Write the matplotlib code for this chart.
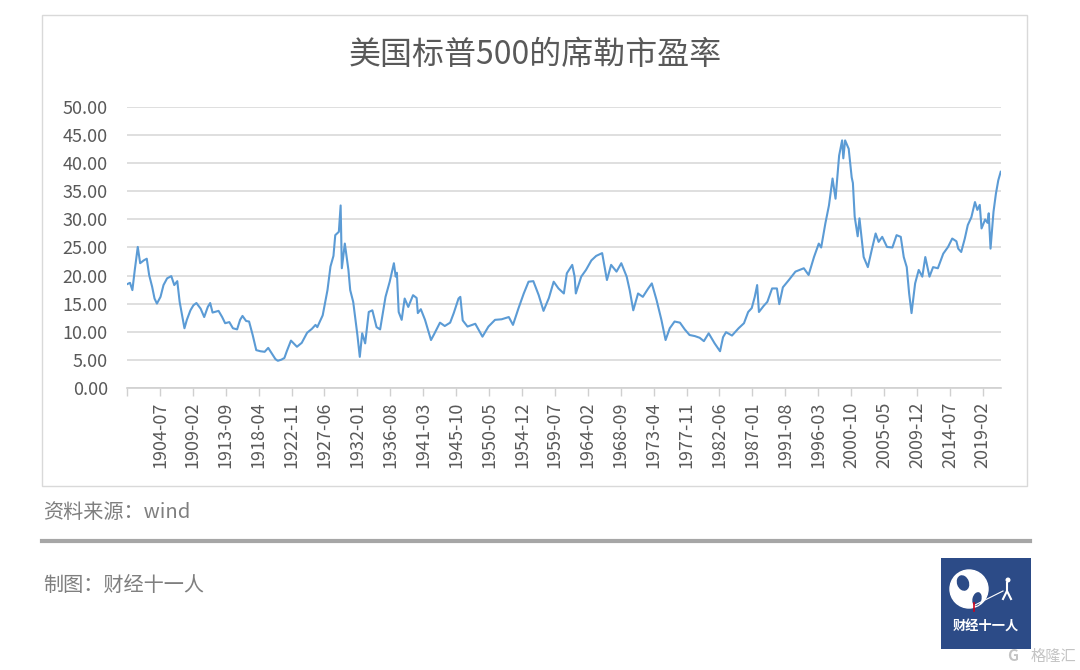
import numpy as np
import matplotlib
matplotlib.use("Agg")
import matplotlib.pyplot as plt
from matplotlib.patches import Rectangle, Circle, Ellipse
from matplotlib.lines import Line2D

plt.rcParams['font.family'] = ['Noto Sans CJK SC', 'DejaVu Sans']

# Shiller CAPE readings (month, value)
months = [
    "1900-01", "1900-05", "1900-09", "1901-01", "1901-06", "1901-10", "1902-04", "1902-09",
    "1903-01", "1903-06", "1903-10", "1904-02", "1904-08", "1905-01", "1905-07", "1906-02",
    "1906-07", "1906-12", "1907-04", "1907-08", "1907-12", "1908-04", "1908-10", "1909-03",
    "1909-08", "1910-03", "1910-09", "1911-03", "1911-07", "1911-11", "1912-09", "1913-03",
    "1913-08", "1914-03", "1914-09", "1915-04", "1915-09", "1916-01", "1916-07", "1916-12",
    "1917-06", "1917-12", "1918-07", "1919-02", "1919-08", "1920-02", "1920-08", "1920-12",
    "1921-06", "1921-11", "1922-03", "1922-10", "1923-08", "1924-04", "1925-01", "1925-09",
    "1926-03", "1926-06", "1927-03", "1927-11", "1928-04", "1928-09", "1928-12", "1929-06",
    "1929-09", "1929-11", "1930-04", "1930-10", "1931-01", "1931-06", "1932-01", "1932-05",
    "1932-09", "1933-02", "1933-08", "1934-02", "1934-09", "1935-03", "1935-12", "1936-07",
    "1937-02", "1937-05", "1937-07", "1937-10", "1938-03", "1938-08", "1939-02", "1939-10",
    "1940-04", "1940-06", "1940-11", "1941-06", "1942-04", "1942-09", "1943-07", "1944-03",
    "1944-12", "1945-06", "1946-02", "1946-05", "1946-09", "1947-05", "1948-06", "1949-06",
    "1950-04", "1951-03", "1952-02", "1953-02", "1953-09", "1954-06", "1955-03", "1955-11",
    "1956-07", "1957-04", "1957-12", "1958-09", "1959-05", "1960-01", "1960-10", "1961-03",
    "1961-12", "1962-04", "1962-06", "1963-03", "1963-11", "1964-08", "1965-04", "1966-02",
    "1966-10", "1967-05", "1968-02", "1968-10", "1969-07", "1969-12", "1970-06", "1971-02",
    "1971-10", "1972-07", "1973-01", "1973-09", "1974-05", "1974-12", "1975-07", "1976-03",
    "1976-12", "1977-08", "1978-04", "1979-01", "1979-09", "1980-04", "1980-12", "1981-10",
    "1982-07", "1982-12", "1983-05", "1984-03", "1985-02", "1985-11", "1986-06", "1986-12",
    "1987-05", "1987-09", "1987-12", "1988-08", "1989-02", "1989-10", "1990-06", "1990-10",
    "1991-04", "1992-02", "1993-01", "1994-03", "1994-11", "1995-08", "1996-04", "1996-08",
    "1997-03", "1997-09", "1998-03", "1998-08", "1999-02", "1999-07", "1999-09", "1999-12",
    "2000-06", "2000-11", "2001-01", "2001-04", "2001-09", "2001-12", "2002-07", "2003-02",
    "2003-09", "2004-03", "2004-08", "2005-02", "2005-10", "2006-07", "2007-02", "2007-09",
    "2008-02", "2008-07", "2008-11", "2009-03", "2009-09", "2010-03", "2010-09", "2011-02",
    "2011-09", "2012-03", "2012-11", "2013-08", "2014-04", "2014-11", "2015-06", "2015-09",
    "2016-02", "2016-08", "2017-01", "2017-07", "2018-01", "2018-05", "2018-09", "2018-12",
    "2019-06", "2019-10", "2019-12", "2020-03", "2020-08", "2020-12", "2021-04", "2021-08",
]
cape = [
    18.5, 18.7, 17.4, 21.0, 25.1, 22.2, 22.7, 23.0,
    20.1, 18.0, 15.9, 15.0, 16.2, 18.3, 19.5, 19.9,
    18.3, 19.0, 15.3, 12.9, 10.6, 12.1, 13.8, 14.7,
    15.1, 14.1, 12.6, 14.4, 15.1, 13.4, 13.7, 12.6,
    11.5, 11.7, 10.6, 10.4, 12.1, 12.8, 11.9, 11.8,
    9.4, 6.7, 6.5, 6.4, 7.1, 6.1, 5.1, 4.8,
    5.0, 5.3, 6.5, 8.4, 7.3, 8.0, 9.8, 10.5,
    11.2, 10.8, 12.9, 17.4, 21.6, 23.5, 27.2, 27.8,
    32.5, 21.3, 25.7, 21.0, 17.4, 15.3, 9.4, 5.5,
    9.7, 7.9, 13.5, 13.8, 10.8, 10.4, 16.2, 18.9,
    22.2, 19.8, 20.5, 13.5, 12.1, 15.9, 14.4, 16.5,
    16.0, 13.3, 14.0, 12.1, 8.5, 9.5, 11.6, 11.0,
    11.6, 13.3, 15.9, 16.2, 12.0, 10.9, 11.4, 9.1,
    10.9, 12.1, 12.2, 12.6, 11.2, 14.1, 16.8, 18.9,
    19.0, 16.5, 13.7, 16.0, 18.9, 17.7, 16.8, 20.4,
    21.9, 19.8, 16.8, 19.8, 21.0, 22.7, 23.5, 24.0,
    19.2, 21.9, 20.7, 22.2, 19.8, 17.4, 13.8, 16.8,
    16.2, 17.7, 18.6, 15.6, 12.1, 8.5, 10.6, 11.8,
    11.6, 10.4, 9.4, 9.2, 8.9, 8.3, 9.7, 7.9,
    6.5, 9.0, 9.9, 9.3, 10.6, 11.5, 13.5, 14.2,
    16.2, 18.3, 13.5, 14.6, 15.3, 17.7, 17.7, 14.9,
    17.9, 19.2, 20.7, 21.3, 20.1, 23.3, 25.7, 25.0,
    29.3, 32.5, 37.3, 33.7, 41.4, 44.1, 40.9, 44.1,
    42.6, 37.5, 36.5, 30.5, 27.0, 30.2, 23.3, 21.5,
    24.8, 27.5, 26.0, 26.9, 25.1, 25.0, 27.2, 26.9,
    23.3, 21.5, 16.8, 13.3, 18.6, 21.0, 19.8, 23.3,
    19.8, 21.5, 21.3, 23.9, 25.1, 26.6, 26.1, 24.8,
    24.2, 26.6, 29.0, 30.4, 33.1, 31.7, 32.6, 28.4,
    30.0, 29.4, 31.1, 24.8, 31.4, 34.6, 37.0, 38.5,
]
tick_labels = [
    "1904-07", "1909-02", "1913-09", "1918-04", "1922-11", "1927-06", "1932-01",
    "1936-08", "1941-03", "1945-10", "1950-05", "1954-12", "1959-07", "1964-02",
    "1968-09", "1973-04", "1977-11", "1982-06", "1987-01", "1991-08", "1996-03",
    "2000-10", "2005-05", "2009-12", "2014-07", "2019-02",
]
first_month = "1900-01"
last_month = "2021-08"


def month_index(s):
    y, m = s.split("-")
    y0, m0 = first_month.split("-")
    return (int(y) - int(y0)) * 12 + int(m) - int(m0)


x = np.array([month_index(m) for m in months])
tick_pos = [month_index(t) for t in tick_labels]
n_last = month_index(last_month)

fig = plt.figure(figsize=(10.8, 6.7), dpi=100)
fig.patch.set_facecolor("white")

# chart frame
fig.add_artist(Rectangle((42 / 1080, 1 - 486 / 670), 985 / 1080, 471 / 670,
                         transform=fig.transFigure, fill=False,
                         edgecolor="#d9d9d9", linewidth=1.0))

ax = fig.add_axes([127.3 / 1080, 1 - 387.7 / 670, (1001 - 127.3) / 1080, (387.7 - 107.3) / 670])
ax.plot(x, cape, color="#5B9BD5", linewidth=1.5, solid_joinstyle="round")

ax.set_xlim(-0.5, n_last + 0.5)
ax.set_ylim(0, 50)
ax.set_yticks(np.arange(0, 51, 5))
ax.set_yticklabels(["%.2f" % v for v in np.arange(0, 51, 5)])
ax.yaxis.grid(True, color="#d9d9d9", linewidth=1.2)
ax.set_axisbelow(True)
ax.tick_params(axis="y", length=0, pad=14, labelsize=13, labelcolor="#595959")

ax.set_xticks(tick_pos)
ax.set_xticklabels(tick_labels, rotation=90)
ax.set_xticks([-0.5], minor=True)
ax.tick_params(axis="x", which="both", length=6, width=1.0, color="#d0d0d0",
               pad=4, labelsize=13, labelcolor="#595959")
for side in ["left", "right", "top"]:
    ax.spines[side].set_visible(False)
ax.spines["bottom"].set_color("#d0d0d0")
ax.spines["bottom"].set_linewidth(1.2)

fig.text(535 / 1080, 1 - 55 / 670, "美国标普500的席勒市盈率", ha="center", va="center",
         fontsize=23, color="#595959")

# source and credit
fig.text(43 / 1080, 1 - 513 / 670, "资料来源：wind", ha="left", va="center",
         fontsize=14.5, color="#7f7f7f")
fig.add_artist(Line2D([42 / 1080, 1030 / 1080], [1 - 541 / 670, 1 - 541 / 670],
                      transform=fig.transFigure, color="#a6a6a6", linewidth=3))
fig.text(43 / 1080, 1 - 585 / 670, "制图：财经十一人", ha="left", va="center",
         fontsize=14.5, color="#7f7f7f")

# logo
lax = fig.add_axes([941 / 1080, 1 - 649 / 670, 90 / 1080, 91 / 670])
lax.set_xlim(0, 90)
lax.set_ylim(0, 91)
lax.axis("off")
lax.add_patch(Rectangle((0, 0), 90, 91, facecolor="#2c4b87", edgecolor="none"))
lax.add_patch(Circle((28, 60), 19, facecolor="white", edgecolor="white"))
lax.add_patch(Ellipse((22, 66), 12, 16, angle=20, facecolor="#2c4b87", edgecolor="none"))
lax.add_patch(Ellipse((36, 50), 9, 14, angle=-15, facecolor="#2c4b87", edgecolor="none"))
lax.plot([30, 62], [42, 58], color="white", linewidth=0.8)
lax.plot([33, 33], [38, 46], color="#d0021b", linewidth=1.2)
lax.plot([62, 66, 70], [50, 58, 50], color="white", linewidth=1.5)
lax.plot([66, 66], [58, 66], color="white", linewidth=1.5)
lax.add_patch(Circle((67, 69), 2.5, facecolor="white", edgecolor="none"))
lax.text(45, 22, "财经十一人", ha="center", va="center", fontsize=9.5,
         color="white", fontweight="bold")

# watermark
fig.text(1076 / 1080, 1 - 656 / 670, "格隆汇", ha="right", va="center",
         fontsize=11, color="#c4c4c4")
fig.text(1013 / 1080, 1 - 656 / 670, "G", ha="center", va="center", fontsize=11,
         color="#c4c4c4", fontweight="bold")

fig.savefig("out.png", dpi=100, facecolor="white")
